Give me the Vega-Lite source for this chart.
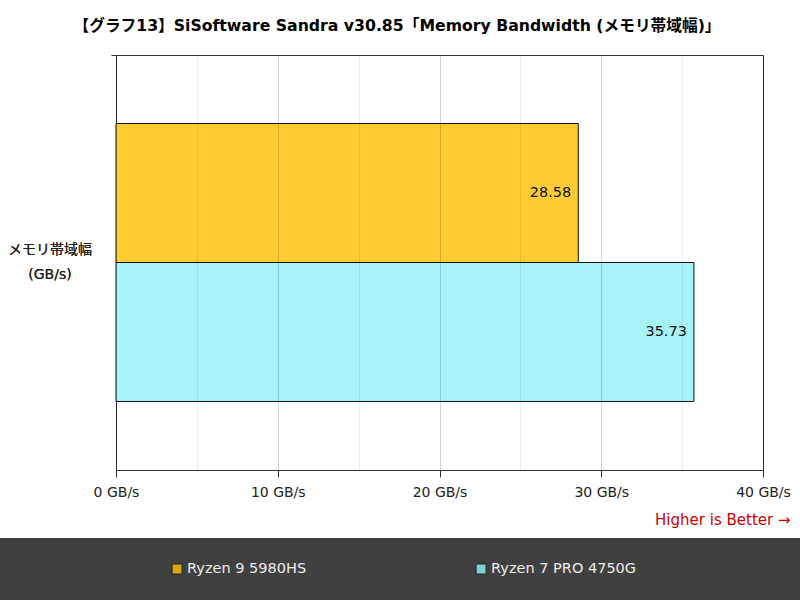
{
  "$schema": "https://vega.github.io/schema/vega-lite/v6.json",
  "background": "white",
  "padding": {"left": 0, "right": 0, "top": 18, "bottom": 0},
  "spacing": 10,
  "title": {
    "text": "【グラフ13】SiSoftware Sandra v30.85「Memory Bandwidth (メモリ帯域幅)」",
    "anchor": "middle",
    "fontSize": 15.7,
    "fontWeight": "bold",
    "color": "#000000",
    "offset": 19,
    "dx": -3
  },
  "datasets": {
    "d": [
      {"metric": "メモリ帯域幅 (GB/s)", "series": "Ryzen 9 5980HS", "value": 28.58},
      {"metric": "メモリ帯域幅 (GB/s)", "series": "Ryzen 7 PRO 4750G", "value": 35.73}
    ]
  },
  "vconcat": [
    {
      "spacing": 0,
      "hconcat": [
        {
          "width": 92,
          "height": 415,
          "view": {"stroke": null},
          "data": {"name": "d"},
          "mark": {"type": "text", "align": "center", "baseline": "middle", "lineBreak": " ", "lineHeight": 25, "fontSize": 14, "color": "#222222", "dx": 4, "dy": -13},
          "encoding": {
            "y": {"field": "metric", "type": "nominal", "axis": null, "scale": {"paddingInner": 0, "paddingOuter": 0}},
            "text": {"field": "metric", "type": "nominal"}
          }
        },
        {
          "width": 647,
          "height": 415,
          "data": {"name": "d"},
          "encoding": {
            "y": {
              "field": "metric",
              "type": "nominal",
              "title": null,
              "scale": {"paddingInner": 0, "paddingOuter": 0},
              "axis": {
                "labels": false,
                "minExtent": 0,
                "tickSize": 5,
                "tickColor": "#333333",
                "domainColor": "#333333",
                "bandPosition": 0,
                "grid": false
              }
            },
            "yOffset": {
              "field": "series",
              "type": "nominal",
              "sort": ["Ryzen 9 5980HS", "Ryzen 7 PRO 4750G"],
              "scale": {"paddingInner": 0, "paddingOuter": 0.493}
            },
            "x": {
              "field": "value",
              "type": "quantitative",
              "scale": {"domain": [0, 40], "nice": false},
              "axis": {
                "title": "Higher is Better →",
                "values": [0, 5, 10, 15, 20, 25, 30, 35, 40],
                "labelExpr": "datum.value % 10 === 0 ? datum.value + ' GB/s' : ''",
                "grid": true,
                "gridColor": "#000000",
                "gridOpacity": {"condition": {"test": "datum.value % 10 === 0", "value": 0.17}, "value": 0.075},
                "tickOpacity": {"condition": {"test": "datum.value % 10 === 0", "value": 1}, "value": 0},
                "tickSize": 7,
                "tickColor": "#333333",
                "domainColor": "#333333",
                "labelFontSize": 14,
                "labelColor": "#222222",
                "labelPadding": 8,
                "labelFlush": false,
                "labelOverlap": false,
                "zindex": 1,
                "titleColor": "#CC0000",
                "titleFontSize": 15,
                "titleFontWeight": "normal",
                "titleAnchor": "end",
                "titleAlign": "right",
                "titleBaseline": "middle",
                "titleX": 674,
                "titleY": 49
              }
            }
          },
          "layer": [
            {
              "mark": {"type": "bar", "stroke": "#111111", "strokeWidth": 1},
              "encoding": {
                "color": {
                  "field": "series",
                  "type": "nominal",
                  "scale": {"domain": ["Ryzen 9 5980HS", "Ryzen 7 PRO 4750G"], "range": ["#FFCC33", "#A6F4F8"]},
                  "legend": null
                }
              }
            },
            {
              "mark": {"type": "text", "align": "right", "baseline": "middle", "dx": -7, "fontSize": 14.5, "color": "#111111"},
              "encoding": {
                "text": {"field": "value", "type": "quantitative", "format": ".2f"}
              }
            }
          ]
        }
      ],
      "resolve": {"scale": {"x": "independent", "y": "independent"}}
    },
    {
      "width": 800,
      "height": 62,
      "view": {"fill": "#404040", "stroke": null},
      "data": {"name": "d"},
      "encoding": {
        "x": {
          "field": "series",
          "type": "nominal",
          "sort": ["Ryzen 9 5980HS", "Ryzen 7 PRO 4750G"],
          "axis": null,
          "scale": {"type": "point", "padding": 0.8158, "align": 0.357}
        }
      },
      "layer": [
        {
          "mark": {"type": "point", "shape": "square", "filled": true, "size": 100, "stroke": "#222222", "strokeWidth": 1, "opacity": 1},
          "encoding": {
            "fill": {
              "field": "series",
              "type": "nominal",
              "scale": {"domain": ["Ryzen 9 5980HS", "Ryzen 7 PRO 4750G"], "range": ["#DAA510", "#7FD3D6"]},
              "legend": null
            }
          }
        },
        {
          "mark": {"type": "text", "align": "left", "baseline": "middle", "dx": 10, "fontSize": 14.5, "color": "#EEEEEE"},
          "encoding": {"text": {"field": "series", "type": "nominal"}}
        }
      ]
    }
  ],
  "resolve": {"scale": {"x": "independent", "y": "independent", "color": "independent", "fill": "independent"}},
  "config": {
    "font": "DejaVu Sans, Noto Sans CJK JP",
    "view": {"stroke": "#333333", "strokeWidth": 1},
    "axis": {"domainWidth": 1, "tickWidth": 1}
  }
}
